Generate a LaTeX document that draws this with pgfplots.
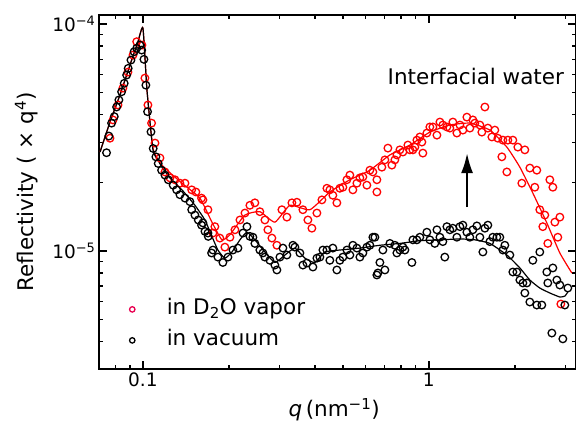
\documentclass[border=0pt]{standalone}
\usepackage{pgfplots}
\pgfplotsset{compat=1.18}
\usepackage{fontspec}
\setmainfont{DejaVu Sans}
\usetikzlibrary{arrows.meta}
\definecolor{legred}{RGB}{232,0,80}
\begin{document}
\begin{tikzpicture}
\path[use as bounding box] (-99pt,-52pt) rectangle (477pt,369pt);
\begin{axis}[
  at={(0pt,0pt)}, anchor=south west,
  scale only axis, width=477pt, height=354pt,
  xmode=log, ymode=log,
  xmin=0.0702, xmax=3.27, ymin=3.02e-6, ymax=1.096e-4,
  xtick={0.1,1}, xticklabels={0.1,1},
  ytick={1e-5,1e-4}, yticklabels={10\textsuperscript{−5},10\textsuperscript{−4}},
  minor xtick={0.08,0.09,0.2,0.3,0.4,0.5,0.6,0.7,0.8,0.9,2,3},
  minor ytick={4e-6,5e-6,6e-6,7e-6,8e-6,9e-6,2e-5,3e-5,4e-5,5e-5,6e-5,7e-5,8e-5,9e-5},
  tick align=inside,
  major tick length=8pt, minor tick length=4pt,
  every tick/.style={line width=1.4pt, black},
  axis line style={line width=2pt},
  ticklabel style={font=\fontsize{18.5}{22}\selectfont},
  xlabel={{\itshape q}\,(nm\textsuperscript{−1})},
  ylabel={Reflectivity ( × q\textsuperscript{4})},
  label style={font=\fontsize{21.5}{24}\selectfont},
  xlabel style={at={(axis description cs:0.493,-0.115)}, anchor=center},
  ylabel style={at={(axis description cs:-0.152,0.50)}, anchor=center},
  legend cell align=left,
  legend style={at={(axis description cs:0.062,0.045)}, anchor=south west, draw=none, fill=none,
    inner sep=0pt, row sep=6pt,
    nodes={inner sep=1pt, text height=17pt, text depth=6pt},
    font=\fontsize{21.5}{24}\selectfont},
]
% red points (in D2O vapor)
\addplot[only marks, mark=o, mark size=3.8pt, red, mark options={line width=1.3pt},
  legend image code/.code={\draw[legred, mark=o, mark size=2.7pt, line width=1.3pt, only marks] plot coordinates {(3.5pt,0pt)}; \path[draw=none] (0pt,0pt) -- (37pt,0pt);}] coordinates {
(0.0767,3.14e-5)(0.0786,3.78e-5)(0.0818,4.40e-5)(0.0851,5.22e-5)(0.0886,6.14e-5)(0.0923,7.30e-5)
(0.0951,8.36e-5)(0.0992,8.08e-5)(0.1016,5.78e-5)(0.1041,4.40e-5)(0.1072,3.66e-5)(0.1102,2.99e-5)
(0.1147,2.57e-5)(0.1194,2.23e-5)(0.1243,2.10e-5)(0.1294,2.06e-5)(0.1347,1.99e-5)(0.1403,1.99e-5)
(0.1481,1.86e-5)(0.1532,1.82e-5)(0.1603,1.71e-5)(0.1621,1.68e-5)(0.1688,1.52e-5)(0.1757,1.20e-5)
(0.1785,1.28e-5)(0.1858,1.14e-5)(0.1935,1.04e-5)(0.2015,1.15e-5)(0.2098,1.24e-5)(0.2184,1.37e-5)
(0.2274,1.47e-5)(0.2366,1.59e-5)(0.2463,1.63e-5)(0.2564,1.49e-5)(0.2670,1.37e-5)(0.2735,1.24e-5)
(0.2825,1.14e-5)(0.2941,1.06e-5)(0.3062,1.52e-5)(0.3188,1.41e-5)(0.3319,1.63e-5)(0.3455,1.64e-5)
(0.3626,1.52e-5)(0.3775,1.37e-5)(0.3899,1.26e-5)(0.4059,1.47e-5)(0.4226,1.68e-5)(0.4399,1.89e-5)
(0.4505,1.86e-5)(0.4615,1.76e-5)(0.4767,1.63e-5)(0.4884,1.89e-5)(0.5003,1.91e-5)(0.5167,2.06e-5)
(0.5293,2.16e-5)(0.5423,1.86e-5)(0.5601,1.99e-5)(0.5738,2.10e-5)(0.5878,2.12e-5)(0.6070,1.95e-5)
(0.6219,2.27e-5)(0.6371,2.23e-5)(0.6580,2.06e-5)(0.6580,1.82e-5)(0.6850,2.34e-5)(0.7018,2.52e-5)
(0.7190,2.84e-5)(0.7425,2.39e-5)(0.7605,2.52e-5)(0.7730,2.65e-5)(0.7918,2.79e-5)(0.8113,2.73e-5)
(0.8445,2.93e-5)(0.8582,2.79e-5)(0.8793,2.79e-5)(0.8934,2.87e-5)(0.9080,3.08e-5)(0.9300,3.18e-5)
(0.9452,3.02e-5)(0.9528,2.70e-5)(0.9840,3.31e-5)(1.008,3.52e-5)(1.033,3.52e-5)(1.067,3.24e-5)
(1.093,3.70e-5)(1.119,3.59e-5)(1.156,3.52e-5)(1.184,3.48e-5)(1.213,3.70e-5)(1.253,3.31e-5)
(1.284,3.59e-5)(1.315,3.41e-5)(1.358,3.89e-5)(1.391,3.48e-5)(1.425,3.78e-5)(1.448,3.66e-5)
(1.508,3.59e-5)(1.532,3.34e-5)(1.570,4.31e-5)(1.608,3.48e-5)(1.661,3.18e-5)(1.701,3.41e-5)
(1.743,3.14e-5)(1.800,2.60e-5)(1.815,3.08e-5)(1.874,2.23e-5)(1.889,3.08e-5)(1.967,3.08e-5)
(2.047,2.87e-5)(2.114,1.99e-5)(2.166,2.79e-5)(2.255,2.32e-5)(2.347,1.91e-5)(2.385,2.27e-5)
(2.443,1.52e-5)(2.503,1.28e-5)(2.544,1.44e-5)(2.606,1.08e-5)(2.649,2.06e-5)(2.714,1.91e-5)
(2.758,1.34e-5)(2.825,1.15e-5)(2.871,1.41e-5)(2.894,5.84e-6)
};
\addlegendentry{in D\textsubscript{2}O vapor}
% black points (in vacuum)
\addplot[only marks, mark=o, mark size=3.8pt, black, mark options={line width=1.3pt},
  legend image code/.code={\draw[black, mark=o, mark size=2.7pt, line width=1.3pt, only marks] plot coordinates {(3.5pt,0pt)}; \path[draw=none] (0pt,0pt) -- (37pt,0pt);}] coordinates {
(0.0746,2.71e-5)(0.0760,3.21e-5)(0.0777,3.66e-5)(0.0794,3.91e-5)(0.0809,4.31e-5)(0.0824,4.63e-5)
(0.0842,5.03e-5)(0.0860,5.48e-5)(0.0877,5.96e-5)(0.0888,6.38e-5)(0.0908,6.94e-5)(0.0931,7.55e-5)
(0.0951,7.82e-5)(0.0976,8.08e-5)(0.0990,7.68e-5)(0.1008,6.99e-5)(0.1024,5.38e-5)(0.1038,4.11e-5)
(0.1067,3.35e-5)(0.1086,2.83e-5)(0.1110,2.60e-5)(0.1131,2.43e-5)(0.1162,2.27e-5)(0.1194,2.16e-5)
(0.1226,2.06e-5)(0.1276,1.95e-5)(0.1312,1.86e-5)(0.1347,1.77e-5)(0.1403,1.71e-5)(0.1460,1.65e-5)
(0.1481,1.52e-5)(0.1520,1.44e-5)(0.1561,1.37e-5)(0.1603,1.30e-5)(0.1621,1.33e-5)(0.1648,1.22e-5)
(0.1688,1.20e-5)(0.1692,1.16e-5)(0.1738,9.8e-6)(0.1757,1.01e-5)(0.1829,9.4e-6)(0.1904,8.9e-6)
(0.1983,9.4e-6)(0.2064,1.01e-5)(0.2149,1.03e-5)(0.2238,1.20e-5)(0.2311,1.28e-5)(0.2366,1.16e-5)
(0.2424,1.15e-5)(0.2463,1.08e-5)(0.2564,1.01e-5)(0.2627,9.8e-6)(0.2670,9.4e-6)(0.2780,9.1e-6)
(0.2894,8.67e-6)(0.2941,8.25e-6)(0.3013,9.4e-6)(0.3087,1.03e-5)(0.3188,9.6e-6)(0.3346,1.06e-5)
(0.3400,1.04e-5)(0.3540,9.8e-6)(0.3626,8.67e-6)(0.3745,8.85e-6)(0.3931,8.50e-6)(0.4059,9.3e-6)
(0.4158,9.4e-6)(0.4260,1.01e-5)(0.4399,1.01e-5)(0.4505,9.1e-6)(0.4615,1.03e-5)(0.4767,8.25e-6)
(0.4884,9.1e-6)(0.5003,9.4e-6)(0.5167,1.01e-5)(0.5293,9.6e-6)(0.5423,1.06e-5)(0.5601,1.03e-5)
(0.5738,9.4e-6)(0.5878,9.8e-6)(0.6070,1.04e-5)(0.6219,1.06e-5)(0.6371,1.15e-5)(0.6475,1.15e-5)
(0.6580,7.84e-6)(0.6633,8.0e-6)(0.6741,8.9e-6)(0.6906,1.01e-5)(0.7018,8.25e-6)(0.7306,1.08e-5)
(0.7605,1.06e-5)(0.7730,9.8e-6)(0.7918,1.01e-5)(0.8113,1.04e-5)(0.8244,1.01e-5)(0.8722,8.9e-6)
(0.8793,1.12e-5)(0.9080,1.12e-5)(0.9300,1.15e-5)(0.9840,1.21e-5)(1.008,1.12e-5)(1.049,1.08e-5)
(1.067,1.24e-5)(1.093,1.15e-5)(1.119,1.10e-5)(1.137,9.4e-6)(1.156,1.28e-5)(1.184,1.24e-5)
(1.213,1.26e-5)(1.253,1.15e-5)(1.284,1.28e-5)(1.315,1.30e-5)(1.358,1.21e-5)(1.391,1.15e-5)
(1.425,1.24e-5)(1.472,1.29e-5)(1.508,1.15e-5)(1.545,9.9e-6)(1.570,1.26e-5)(1.608,1.30e-5)
(1.634,1.10e-5)(1.674,1.15e-5)(1.729,1.15e-5)(1.771,1.15e-5)(1.815,1.01e-5)(1.844,1.06e-5)
(1.920,9.6e-6)(1.967,8.08e-6)(2.031,8.08e-6)(2.081,7.45e-6)(2.132,7.23e-6)(2.166,6.53e-6)
(2.201,7.23e-6)(2.255,5.96e-6)(2.310,9.1e-6)(2.385,5.78e-6)(2.443,9.9e-6)(2.483,5.78e-6)
(2.585,8.08e-6)(2.606,7.23e-6)(2.692,4.35e-6)(2.714,8.42e-6)(2.803,7.45e-6)(2.871,7.08e-6)
(2.941,4.10e-6)(2.989,5.78e-6)(3.062,6.87e-6)
};
\addlegendentry{in vacuum}
% red fit
\addplot[forget plot, red, line width=1.2pt, smooth, tension=0.3] coordinates {
(0.0708,2.73e-5)(0.0767,3.70e-5)(0.0831,4.87e-5)(0.0901,6.60e-5)(0.0960,8.33e-5)(0.1,9.59e-5)
(0.1033,5.12e-5)(0.1084,2.84e-5)(0.1165,2.39e-5)(0.1369,1.99e-5)(0.1582,1.71e-5)(0.1743,1.34e-5)
(0.1889,1.12e-5)(0.2015,1.18e-5)(0.2274,1.44e-5)(0.2564,1.49e-5)(0.2894,1.34e-5)(0.3266,1.59e-5)
(0.3837,1.52e-5)(0.4505,1.82e-5)(0.5293,2.06e-5)(0.6219,2.27e-5)(0.7306,2.65e-5)(0.8582,2.93e-5)
(1.008,3.34e-5)(1.184,3.59e-5)(1.391,3.66e-5)(1.634,3.41e-5)(1.874,2.87e-5)(2.081,2.34e-5)
(2.310,1.80e-5)(2.585,1.33e-5)(2.871,9.8e-6)(3.162,8.0e-6)
};
% black fit
\addplot[forget plot, black, line width=1.2pt, smooth, tension=0.3] coordinates {
(0.0708,2.73e-5)(0.0767,3.70e-5)(0.0831,4.87e-5)(0.0901,6.60e-5)(0.0960,8.33e-5)(0.1,9.59e-5)
(0.1033,5.12e-5)(0.1084,2.79e-5)(0.1128,2.52e-5)(0.1165,2.34e-5)(0.1243,2.10e-5)(0.1369,1.86e-5)
(0.1520,1.59e-5)(0.1647,1.37e-5)(0.1743,1.16e-5)(0.1829,1.01e-5)(0.1935,9.3e-6)(0.2048,9.9e-6)
(0.2184,1.12e-5)(0.2311,1.21e-5)(0.2463,1.12e-5)(0.2670,9.9e-6)(0.2894,8.9e-6)(0.3137,9.6e-6)
(0.3400,1.03e-5)(0.3685,9.3e-6)(0.3994,8.9e-6)(0.4329,9.9e-6)(0.4884,1.01e-5)(0.5738,1.03e-5)
(0.6741,1.06e-5)(0.7918,1.08e-5)(0.9300,1.11e-5)(1.093,1.12e-5)(1.284,1.13e-5)(1.448,1.12e-5)
(1.634,1.08e-5)(1.874,9.6e-6)(2.081,8.42e-6)(2.255,7.45e-6)(2.443,6.87e-6)(2.649,6.53e-6)
(2.871,6.27e-6)(2.989,6.33e-6)(3.062,6.60e-6)
};
\node[font=\fontsize{21.5}{24}\selectfont] at (axis cs:1.46,5.9e-5) {Interfacial water};
\draw[line width=2.2pt, -{Latex[length=20pt,width=12pt]}] (axis cs:1.36,1.56e-5) -- (axis cs:1.36,2.70e-5);
\end{axis}
\end{tikzpicture}
\end{document}
